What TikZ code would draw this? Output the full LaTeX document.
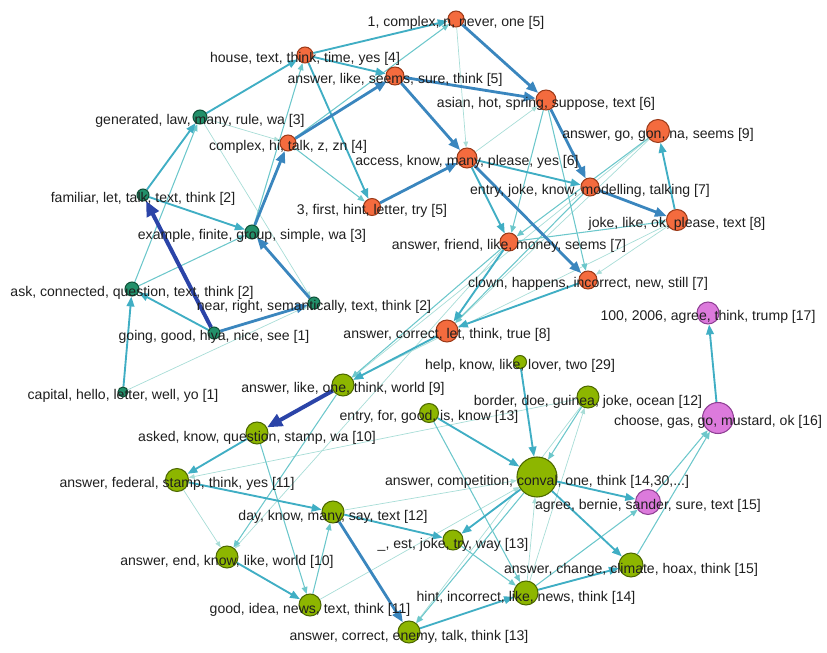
\documentclass[tikz,border=0pt]{standalone}
\usepackage{fontspec}
\setmainfont{Liberation Sans}
\usetikzlibrary{arrows.meta, backgrounds}
\definecolor{topicorange}{HTML}{F46B3E}
\definecolor{topicorangeline}{HTML}{9C3A18}
\definecolor{topicpine}{HTML}{22906A}
\definecolor{topicpineline}{HTML}{0F5038}
\definecolor{topiclime}{HTML}{8DB600}
\definecolor{topiclimeline}{HTML}{4C6800}
\definecolor{topicpink}{HTML}{DC7ADC}
\definecolor{topicpinkline}{HTML}{8E3F93}
\definecolor{linkfaint}{HTML}{A8DDD7}
\definecolor{linksoft}{HTML}{6CC7CB}
\definecolor{linkmid}{HTML}{40AEC4}
\definecolor{linkheavy}{HTML}{3A86BE}
\definecolor{linkbold}{HTML}{2B44A8}
\tikzset{topic/.style={circle, inner sep=0pt, line width=0.9pt, minimum size=#1*0.03cm}}
\tikzset{orangetopic/.style={topic=#1, fill=topicorange, draw=topicorangeline}}
\tikzset{pinetopic/.style={topic=#1, fill=topicpine, draw=topicpineline}}
\tikzset{limetopic/.style={topic=#1, fill=topiclime, draw=topiclimeline}}
\tikzset{pinktopic/.style={topic=#1, fill=topicpink, draw=topicpinkline}}
\tikzset{lightlink/.style={linkfaint, line width=0.6pt, -{Triangle[length=5pt, width=4pt]}}}
\tikzset{softlink/.style={linksoft, line width=0.9pt, -{Triangle[length=6pt, width=5pt]}}}
\tikzset{midlink/.style={linkmid, line width=1.6pt, -{Triangle[length=8.5pt, width=6.5pt]}}}
\tikzset{heavylink/.style={linkheavy, line width=2.4pt, -{Triangle[length=10pt, width=8pt]}}}
\tikzset{boldlink/.style={linkbold, line width=3.4pt, -{Triangle[length=13pt, width=11pt]}}}
\tikzset{word/.style={font=\fontsize{12}{14}\selectfont, text=black!88, inner sep=0pt, anchor=base, yshift=-0.24cm}}

\begin{document}
\begin{tikzpicture}[x=0.03cm, y=-0.03cm]
	\useasboundingbox (0,0) rectangle (827,653);

	% Topics (orange)
	\node[orangetopic=16] (onecomplex) at (456,19) {};
	\node[orangetopic=16] (house) at (305,55) {};
	\node[orangetopic=18] (seems) at (395,76) {};
	\node[orangetopic=20] (asian) at (546,100) {};
	\node[orangetopic=16] (complexhi) at (288,143) {};
	\node[orangetopic=20] (access) at (467,158) {};
	\node[orangetopic=17] (firsthint) at (372,207) {};
	\node[orangetopic=23] (gon) at (658,131) {};
	\node[orangetopic=18] (modelling) at (590,187) {};
	\node[orangetopic=21] (jokeok) at (677,220) {};
	\node[orangetopic=18] (friend) at (509,242) {};
	\node[orangetopic=18] (clown) at (588,280) {};
	\node[orangetopic=22] (correct) at (447,331) {};

	% Topics (green)
	\node[pinetopic=14] (generated) at (200,117) {};
	\node[pinetopic=12] (familiar) at (143,195) {};
	\node[pinetopic=14] (example) at (252,232) {};
	\node[pinetopic=14] (ask) at (132,289) {};
	\node[pinetopic=12] (near) at (314,303) {};
	\node[pinetopic=12] (going) at (214,333) {};
	\node[pinetopic=10] (capital) at (123,392) {};

	% Topics (lime)
	\node[limetopic=13] (help) at (520,362) {};
	\node[limetopic=22] (world) at (343,385) {};
	\node[limetopic=22] (border) at (588,397) {};
	\node[limetopic=19] (entry) at (429,413) {};
	\node[limetopic=22] (asked) at (257,433) {};
	\node[limetopic=23] (federal) at (177,480) {};
	\node[limetopic=40] (conval) at (537,477) {};
	\node[limetopic=22] (day) at (333,512) {};
	\node[limetopic=20] (est) at (453,540) {};
	\node[limetopic=22] (ending) at (227,557) {};
	\node[limetopic=24] (hint) at (526,593) {};
	\node[limetopic=22] (idea) at (310,605) {};
	\node[limetopic=22] (enemy) at (409,632) {};
	\node[limetopic=24] (climate) at (631,565) {};

	% Topics (pink)
	\node[pinktopic=22] (trump) at (708,313) {};
	\node[pinktopic=31] (choose) at (718,418) {};
	\node[pinktopic=25] (bernie) at (648,502) {};

	\begin{scope}[on background layer]
		% Links
		%% Light
		\draw[lightlink] (generated) -- (complexhi);
		\draw[lightlink] (generated) -- (near);
		\draw[lightlink] (onecomplex) -- (access);
		\draw[lightlink] (access) -- (asian);
		\draw[lightlink] (capital) -- (near);
		\draw[lightlink] (federal) -- (ending);
		\draw[lightlink] (gon) -- (correct);
		\draw[lightlink] (gon) -- (world);
		\draw[lightlink] (jokeok) -- (world);
		\draw[lightlink] (jokeok) -- (clown);
		\draw[lightlink] (friend) -- (ending);
		\draw[lightlink] (border) -- (federal);
		\draw[lightlink] (border) -- (enemy);
		\draw[lightlink] (hint) -- (border);
		\draw[lightlink] (idea) -- (conval);
		\draw[lightlink] (day) -- (conval);
		\draw[lightlink] (hint) -- (conval);
		%% Soft
		\draw[softlink] (ask) -- (generated);
		\draw[softlink] (ask) -- (example);
		\draw[softlink] (example) -- (house);
		\draw[softlink] (complexhi) -- (firsthint);
		\draw[softlink] (complexhi) -- (onecomplex);
		\draw[softlink] (asian) -- (friend);
		\draw[softlink] (asian) -- (clown);
		\draw[softlink] (friend) -- (jokeok);
		\draw[softlink] (friend) -- (world);
		\draw[softlink] (modelling) -- (correct);
		\draw[softlink] (gon) -- (friend);
		\draw[softlink] (world) -- (ending);
		\draw[softlink] (idea) -- (day);
		\draw[softlink] (asked) -- (idea);
		\draw[softlink] (conval) -- (enemy);
		\draw[softlink] (est) -- (hint);
		\draw[softlink] (hint) -- (bernie);
		\draw[softlink] (climate) -- (choose);
		\draw[softlink] (bernie) -- (choose);
		\draw[softlink] (entry) -- (hint);
		\draw[softlink] (border) -- (conval);
		%% Medium
		\draw[midlink] (going) -- (ask);
		\draw[midlink] (capital) -- (ask);
		\draw[midlink] (familiar) -- (example);
		\draw[midlink] (familiar) -- (generated);
		\draw[midlink] (generated) -- (house);
		\draw[midlink] (house) -- (seems);
		\draw[midlink] (house) -- (onecomplex);
		\draw[midlink] (house) -- (firsthint);
		\draw[midlink] (access) -- (modelling);
		\draw[midlink] (access) -- (friend);
		\draw[midlink] (jokeok) -- (gon);
		\draw[midlink] (clown) -- (correct);
		\draw[midlink] (friend) -- (correct);
		\draw[midlink] (correct) -- (world);
		\draw[midlink] (asked) -- (federal);
		\draw[midlink] (federal) -- (day);
		\draw[midlink] (ending) -- (idea);
		\draw[midlink] (entry) -- (conval);
		\draw[midlink] (help) -- (conval);
		\draw[midlink] (conval) -- (bernie);
		\draw[midlink] (conval) -- (climate);
		\draw[midlink] (conval) -- (est);
		\draw[midlink] (day) -- (est);
		\draw[midlink] (enemy) -- (hint);
		\draw[midlink] (hint) -- (climate);
		\draw[midlink] (choose) -- (trump);
		%% Heavy
		\draw[heavylink] (going) -- (near);
		\draw[heavylink] (near) -- (example);
		\draw[heavylink] (example) -- (complexhi);
		\draw[heavylink] (complexhi) -- (seems);
		\draw[heavylink] (firsthint) -- (access);
		\draw[heavylink] (seems) -- (access);
		\draw[heavylink] (seems) -- (asian);
		\draw[heavylink] (onecomplex) -- (asian);
		\draw[heavylink] (asian) -- (modelling);
		\draw[heavylink] (access) -- (clown);
		\draw[heavylink] (modelling) -- (jokeok);
		\draw[heavylink] (day) -- (enemy);
		%% Bold
		\draw[boldlink] (going) -- (familiar);
		\draw[boldlink] (world) -- (asked);
	\end{scope}

	% Labels
	\node[word] (onecomplex-t) at (onecomplex) {1, complex, n, never, one [5]};
	\node[word] (house-t) at (house) {house, text, think, time, yes [4]};
	\node[word] (seems-t) at (seems) {answer, like, seems, sure, think [5]};
	\node[word] (asian-t) at (asian) {asian, hot, spring, suppose, text [6]};
	\node[word] (complexhi-t) at (complexhi) {complex, hi, talk, z, zn [4]};
	\node[word] (access-t) at (access) {access, know, many, please, yes [6]};
	\node[word] (firsthint-t) at (firsthint) {3, first, hint, letter, try [5]};
	\node[word] (gon-t) at (gon) {answer, go, gon, na, seems [9]};
	\node[word] (modelling-t) at (modelling) {entry, joke, know, modelling, talking [7]};
	\node[word] (jokeok-t) at (jokeok) {joke, like, ok, please, text [8]};
	\node[word] (friend-t) at (friend) {answer, friend, like, money, seems [7]};
	\node[word] (clown-t) at (clown) {clown, happens, incorrect, new, still [7]};
	\node[word] (correct-t) at (correct) {answer, correct, let, think, true [8]};
	\node[word] (generated-t) at (generated) {generated, law, many, rule, wa [3]};
	\node[word] (familiar-t) at (familiar) {familiar, let, talk, text, think [2]};
	\node[word] (example-t) at (example) {example, finite, group, simple, wa [3]};
	\node[word] (ask-t) at (ask) {ask, connected, question, text, think [2]};
	\node[word] (near-t) at (near) {near, right, semantically, text, think [2]};
	\node[word] (going-t) at (going) {going, good, hiya, nice, see [1]};
	\node[word] (capital-t) at (capital) {capital, hello, letter, well, yo [1]};
	\node[word] (help-t) at (help) {help, know, like, lover, two [29]};
	\node[word] (world-t) at (world) {answer, like, one, think, world [9]};
	\node[word] (border-t) at (border) {border, doe, guinea, joke, ocean [12]};
	\node[word] (entry-t) at (entry) {entry, for, good, is, know [13]};
	\node[word] (asked-t) at (asked) {asked, know, question, stamp, wa [10]};
	\node[word] (federal-t) at (federal) {answer, federal, stamp, think, yes [11]};
	\node[word] (conval-t) at (conval) {answer, competition, conval, one, think [14,30,...]};
	\node[word] (day-t) at (day) {day, know, many, say, text [12]};
	\node[word] (est-t) at (est) {\_, est, joke, try, way [13]};
	\node[word] (ending-t) at (ending) {answer, end, know, like, world [10]};
	\node[word] (hint-t) at (hint) {hint, incorrect, like, news, think [14]};
	\node[word] (idea-t) at (idea) {good, idea, news, text, think [11]};
	\node[word] (enemy-t) at (enemy) {answer, correct, enemy, talk, think [13]};
	\node[word] (climate-t) at (climate) {answer, change, climate, hoax, think [15]};
	\node[word] (trump-t) at (trump) {100, 2006, agree, think, trump [17]};
	\node[word] (choose-t) at (choose) {choose, gas, go, mustard, ok [16]};
	\node[word] (bernie-t) at (bernie) {agree, bernie, sander, sure, text [15]};
\end{tikzpicture}
\end{document}
